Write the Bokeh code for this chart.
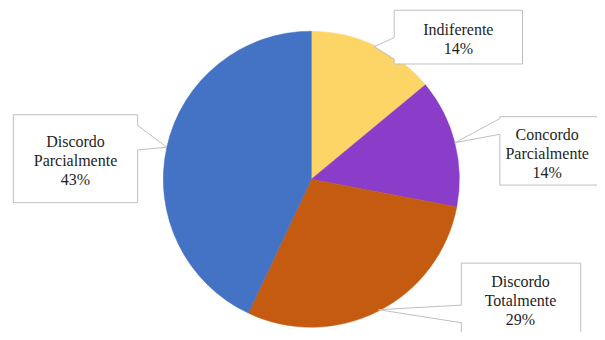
import math
from bokeh.plotting import figure
from bokeh.models import Range1d
from bokeh.core.properties import value
from bokeh.embed import file_html
from bokeh.resources import INLINE

# ---- data ----
categories = ["Indiferente", "Concordo Parcialmente", "Discordo Totalmente", "Discordo Parcialmente"]
percents = [14, 14, 29, 43]
label_lines = [["Indiferente"], ["Concordo", "Parcialmente"], ["Discordo", "Totalmente"], ["Discordo", "Parcialmente"]]
colors = ["#FDD566", "#8A3DC9", "#C55A11", "#4472C4"]

# ---- layout (reference pixel coordinates of the 605x340 picture) ----
W, H = 605, 340
CX, CY, R = 315, 183, 150

def dy(sy):
    return H - sy  # screen y -> data y

p = figure(width=W - 8, height=H - 8, output_backend="svg", toolbar_location=None,
           x_range=Range1d(0, W), y_range=Range1d(0, H), min_border=0)
p.axis.visible = False
p.grid.visible = False
p.outline_line_alpha = 0

total = float(sum(percents))
starts, ends, mids = [], [], []
cum = 0.0
for v in percents:
    a0 = math.pi / 2 - 2 * math.pi * cum / total
    cum += v
    a1 = math.pi / 2 - 2 * math.pi * cum / total
    starts.append(a0); ends.append(a1); mids.append((a0 + a1) / 2)

p.wedge(x=[CX] * 4, y=[dy(CY)] * 4, radius=R, start_angle=starts, end_angle=ends,
        direction="clock", fill_color=colors, line_color=colors, line_width=0.5)

# callout boxes: (x0, y0, x1, y1), side of pointer, base y-range, text center x, first line center y
boxes = [
    ((399, 10, 529, 65), "left", (38, 60), 464, 30),
    ((506, 119, 615, 189), "left", (121, 137), 554, 137),
    ((467, 269, 588, 350), "left", (312, 330), 527, 288),
    ((13, 117, 139, 207), "right", (128, 153), 76, 144),
]

for i, (box, side, base, tx, ty) in enumerate(boxes):
    x0, y0, x1, y1 = box
    tipx = CX + R * math.cos(mids[i])
    tipy = CY - R * math.sin(mids[i])
    b0, b1 = base
    if side == "left":
        pts = [(x0, y0), (x1, y0), (x1, y1), (x0, y1), (x0, b1), (tipx, tipy), (x0, b0)]
    else:
        pts = [(x0, y0), (x1, y0), (x1, b0), (tipx, tipy), (x1, b1), (x1, y1), (x0, y1)]
    p.patch([q[0] for q in pts], [dy(q[1]) for q in pts], fill_color="white",
            line_color="#BFBFBF", line_width=1)

LINE_H = 19.5
for i, (box, side, base, tx, ty) in enumerate(boxes):
    lines = label_lines[i] + ["%d%%" % percents[i]]
    for k, t in enumerate(lines):
        p.text(x=[tx], y=[dy(ty + k * LINE_H)], text=[t],
               text_font=value("Times New Roman"), text_font_size="16px", text_color="#1E1E1E",
               text_align="center", text_baseline="middle")

open("out.html", "w").write(file_html(p, INLINE))
